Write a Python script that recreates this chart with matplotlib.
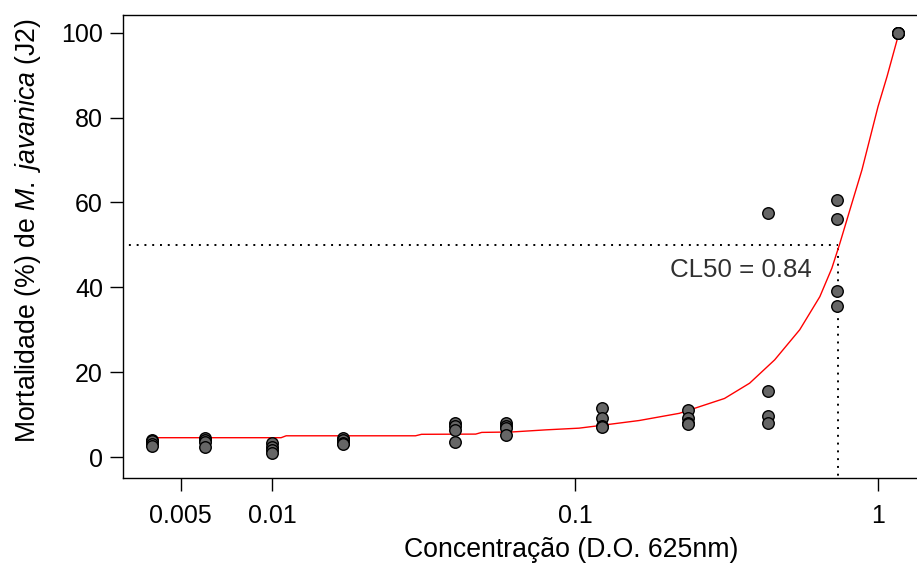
import matplotlib
matplotlib.use("Agg")
import matplotlib.pyplot as plt
import numpy as np

plt.rcParams['font.family'] = ['Liberation Sans', 'DejaVu Sans']
plt.rcParams['mathtext.fontset'] = 'custom'
plt.rcParams['mathtext.rm'] = 'Liberation Sans'
plt.rcParams['mathtext.it'] = 'Liberation Sans:italic'

# Data
concentrations = [0.00401, 0.00599, 0.01, 0.01709, 0.04027, 0.05939,
                  0.1226, 0.2354, 0.4333, 0.7298, 1.1677]
mortality = [
    [4.0, 3.7, 3.0, 2.7],
    [4.4, 4.0, 3.6, 2.4],
    [3.4, 2.3, 1.6, 0.9],
    [4.4, 4.0, 3.4, 3.1],
    [7.9, 7.3, 6.4, 3.6],
    [8.0, 7.4, 6.8, 5.3],
    [11.6, 9.3, 7.4, 7.1],
    [11.0, 9.2, 8.1, 7.7],
    [57.6, 15.5, 9.7, 7.9],
    [60.7, 56.1, 39.2, 35.7],
    [100.0, 100.0, 100.0, 100.0],
]
curve_x = [0.00401, 0.01071, 0.01113, 0.02975, 0.03114, 0.04701, 0.04921,
           0.06185, 0.08017, 0.1031, 0.1173, 0.1628, 0.2210, 0.3114, 0.3769,
           0.4559, 0.5516, 0.6427, 0.7041, 0.7485, 0.8079, 0.8852, 1.0,
           1.071, 1.168]
curve_y = [4.55, 4.55, 5.0, 5.0, 5.35, 5.4, 5.8, 5.9, 6.4, 6.8, 7.3, 8.6,
           10.3, 13.8, 17.4, 22.9, 30.0, 37.8, 44.5, 50.4, 58.3, 67.7, 82.6,
           89.7, 99.5]
cl50_x = 0.737
cl50_y = 50
cl50_label = "CL50 = 0.84"
xticks = [0.005, 0.01, 0.1, 1]
xticklabels = ["0.005", "0.01", "0.1", "1"]
yticks = [0, 20, 40, 60, 80, 100]

fig = plt.figure(figsize=(9.17, 5.65), dpi=100)
ax = fig.add_axes([123/917, 1 - 478/565, (928 - 123)/917, (478 - 15)/565])

ax.set_xscale('log')
ax.set_xlim(10**-2.492, 10**0.165)
ax.set_ylim(-4.95, 104.2)

# CL50 guide lines
ax.plot([10**-2.6, cl50_x], [cl50_y, cl50_y], color='black', linestyle=(0, (1, 3)), lw=1.4)
ax.plot([cl50_x, cl50_x], [-10, cl50_y], color='black', linestyle=(0, (1, 3)), lw=1.4)

# Fitted curve
ax.plot(curve_x, curve_y, color='#ff0000', lw=1.0, zorder=3)

# Points
for c, vals in zip(concentrations, mortality):
    ax.plot([c] * len(vals), vals, linestyle='none', marker='o', ms=8.3,
            mfc='#666666', mec='black', mew=1.0, zorder=4)

ax.text(0.3537, 44.1, cl50_label, ha='center', va='center', fontsize=18.6,
        color='#303030')

ax.set_xticks(xticks)
ax.set_xticklabels(xticklabels)
ax.xaxis.set_minor_locator(matplotlib.ticker.NullLocator())
ax.set_yticks(yticks)
ax.tick_params(axis='both', labelsize=18, length=9.4, width=1.0, direction='out')
ax.tick_params(axis='x', pad=9)
ax.tick_params(axis='y', pad=5)

for s in ax.spines.values():
    s.set_linewidth(1.0)

ax.set_xlabel("Concentração (D.O. 625nm)", fontsize=19.2)
ax.set_ylabel(r"Mortalidade (%) de $\mathit{M.\ javanica}$ (J2)", fontsize=19.2)
ax.xaxis.set_label_coords((571 - 123) / 805, -(550 - 478) / 463)
ax.yaxis.set_label_coords(-(123 - 28) / 805, (478 - 230) / 463)
ax.xaxis.label.set_va('center')
ax.yaxis.label.set_va('center')

fig.savefig("out.png", dpi=100)
